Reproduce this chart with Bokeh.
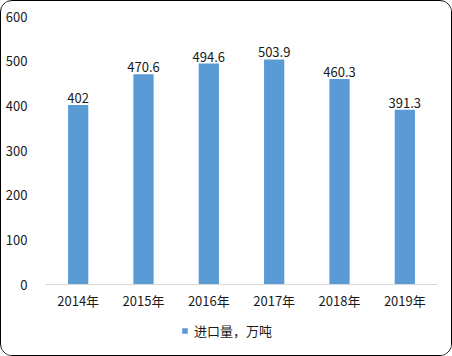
from bokeh.plotting import figure
from bokeh.layouts import column
from bokeh.models import ColumnDataSource, LabelSet, Legend, LegendItem, Range1d, FactorRange, SingleIntervalTicker
from bokeh.core.properties import value
from bokeh.embed import file_html
from bokeh.resources import INLINE

years = ["2014年", "2015年", "2016年", "2017年", "2018年", "2019年"]
values = [402, 470.6, 494.6, 503.9, 460.3, 391.3]
value_labels = ["402", "470.6", "494.6", "503.9", "460.3", "391.3"]
series_name = "进口量，万吨"

FONT = "Noto Sans CJK SC"
TEXT_COLOR = "#1a1a1a"
BAR_COLOR = "#5B9BD5"

src = ColumnDataSource(dict(x=years, y=values, lab=value_labels))

p = figure(frame_width=392, frame_height=268, output_backend="svg", toolbar_location=None,
           x_range=FactorRange(*years, range_padding=0), y_range=Range1d(0, 600),
           min_border_left=44, min_border_right=14, min_border_top=15, min_border_bottom=0)
p.outline_line_color = None
p.background_fill_color = "white"
p.border_fill_color = "white"

r = p.vbar(x="x", top="y", width=0.31, source=src, color=BAR_COLOR, line_color=None)

labels = LabelSet(x="x", y="y", text="lab", source=src, text_align="center",
                  text_baseline="bottom", y_offset=2, text_font=value(FONT),
                  text_font_size=value("13px"), text_color=value(TEXT_COLOR))
p.add_layout(labels)

p.xgrid.visible = False
p.ygrid.visible = False

p.yaxis.ticker = SingleIntervalTicker(interval=100)
p.yaxis.axis_line_color = None
p.yaxis.major_tick_line_color = None
p.yaxis.minor_tick_line_color = None
p.yaxis.major_label_standoff = 12
p.yaxis.major_label_text_font = FONT
p.yaxis.major_label_text_font_size = "13px"
p.yaxis.major_label_text_color = TEXT_COLOR

p.xaxis.axis_line_color = "#D9D9D9"
p.xaxis.axis_line_width = 1
p.xaxis.major_tick_line_color = None
p.xaxis.minor_tick_line_color = None
p.xaxis.major_label_standoff = 0
p.xaxis.major_label_text_font = FONT
p.xaxis.major_label_text_font_size = "13px"
p.xaxis.major_label_text_color = TEXT_COLOR

# legend strip below the chart (same series; its bars lie outside this strip's range)
p2 = figure(frame_width=392, frame_height=43, output_backend="svg", toolbar_location=None,
            x_range=p.x_range, y_range=Range1d(1000, 1001),
            min_border_left=44, min_border_right=14, min_border_top=0, min_border_bottom=0)
p2.axis.visible = False
p2.grid.visible = False
p2.outline_line_color = None
p2.background_fill_color = "white"
p2.border_fill_color = "white"
r2 = p2.vbar(x="x", top="y", width=0.0, source=src, color=BAR_COLOR, line_color=None)

legend = Legend(items=[LegendItem(label=series_name, renderers=[r2])],
                location=(136, 15), orientation="horizontal",
                glyph_width=7, glyph_height=7, label_standoff=6,
                padding=0, margin=0, border_line_color=None, background_fill_alpha=0,
                label_text_font=FONT, label_text_font_size="13px",
                label_text_color=TEXT_COLOR, label_height=14)
p2.add_layout(legend)

layout = column(p, p2, spacing=0,
                styles={"border": "1px solid #000000", "border-radius": "12px",
                        "overflow": "hidden", "background": "white"})

open("out.html", "w").write(file_html(layout, INLINE))
